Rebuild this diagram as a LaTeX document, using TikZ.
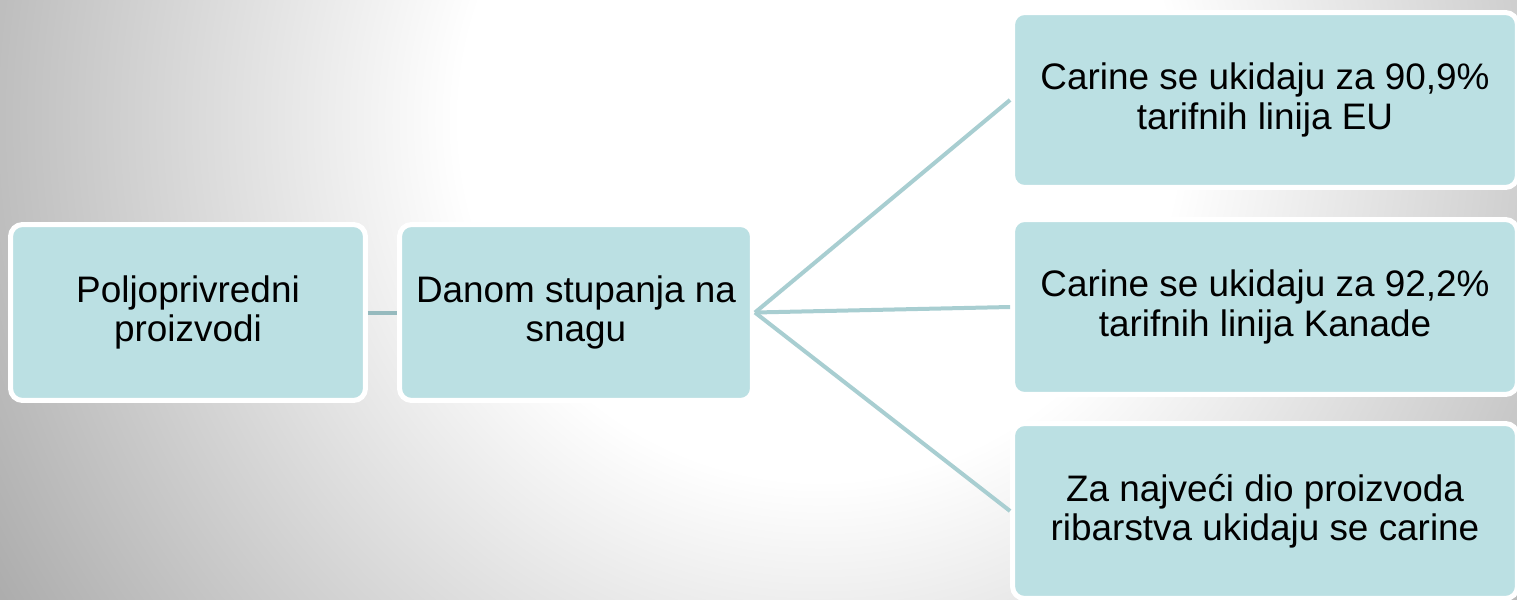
\documentclass[tikz,border=0pt]{standalone}
\usepackage{fontspec}
\setmainfont{Liberation Sans}
\usepackage{tikz}

\definecolor{boxfill}{RGB}{187,224,227}
\definecolor{linkline}{RGB}{168,206,209}
\definecolor{linkdark}{RGB}{150,186,190}
\definecolor{bgedge}{RGB}{160,160,160}

\pgfdeclareradialshading{bgglow}{\pgfpoint{0bp}{0bp}}{color(0bp)=(white); color(9bp)=(white); color(26bp)=(bgedge); color(50bp)=(bgedge)}

\tikzset{
  treebox/.style={rectangle, rounded corners=0.24cm, fill=boxfill, draw=white, line width=0.1cm,
    inner sep=0pt, align=center, font=\fontsize{21}{22.5}\selectfont},
  link/.style={color=linkline, line width=0.08cm}
}

\begin{document}
\begin{tikzpicture}[x=0.02cm, y=-0.02cm]
	\useasboundingbox (0,0) rectangle (1517,599);
	\begin{scope}
	\clip (0,0) rectangle (1517,599);
	\shade[shading=bgglow] (-180,-880) rectangle (1820,1120);
	\node[treebox, minimum width=7.1cm, minimum height=3.52cm] (agri) at (188,312.5) {Poljoprivredni\\proizvodi};
	\node[treebox, minimum width=7.06cm, minimum height=3.52cm] (entry) at (576,312.5) {Danom stupanja na\\snagu};
	\node[treebox, minimum width=10.1cm, minimum height=3.5cm] (eu) at (1265,100) {Carine se ukidaju za 90,9\%\\tarifnih linija EU};
	\node[treebox, minimum width=10.1cm, minimum height=3.5cm] (canada) at (1265,307) {Carine se ukidaju za 92,2\%\\tarifnih linija Kanade};
	\node[treebox, minimum width=10.1cm, minimum height=3.5cm] (fish) at (1265,511) {Za najveći dio proizvoda\\ribarstva ukidaju se carine};
	\draw[link, color=linkdark] (agri.east) -- (entry.west);
	\draw[link] (entry.east) -- (eu.west);
	\draw[link] (entry.east) -- (canada.west);
	\draw[link] (entry.east) -- (fish.west);
	\end{scope}
\end{tikzpicture}
\end{document}
